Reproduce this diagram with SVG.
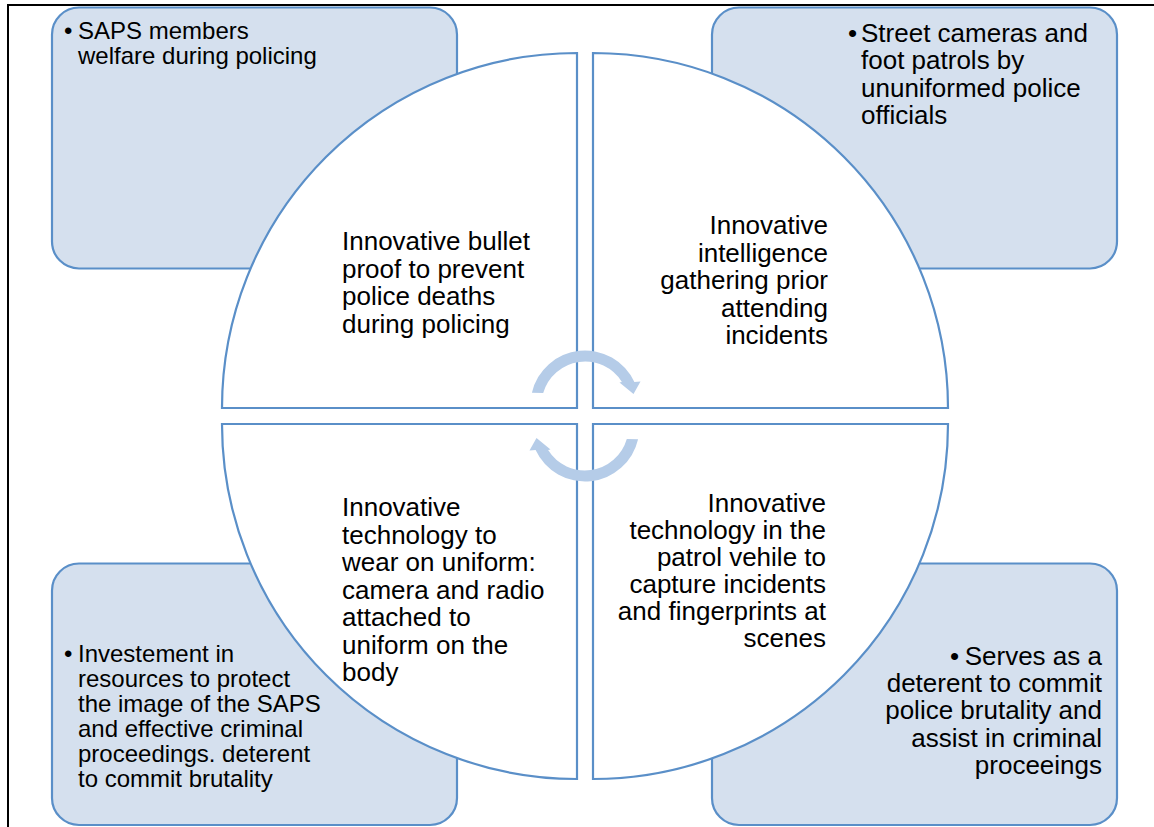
<svg xmlns="http://www.w3.org/2000/svg" width="1154" height="827" viewBox="0 0 1154 827">
<style>
.box{fill:#D5E0EE;stroke:#5A8FC8;stroke-width:2.2}
.quad{fill:#FFFFFF;stroke:#5A8FC8;stroke-width:2.2}
.arr{fill:#B5CCE8}
text{font-family:"Liberation Sans",Arial,sans-serif;fill:#000}
.q{font-size:26px}
.r{font-size:26px}
.l{font-size:24px}
.e{text-anchor:end}
.frame{stroke:#000;stroke-width:2;fill:none}
</style>
<rect width="1154" height="827" fill="#FFFFFF"/>
<path class="frame" d="M8 827 V5 H1154"/>
<g id="box-tl"><rect class="box" x="52" y="7.5" width="405" height="261" rx="27" ry="27"/>
<text class="l" x="64" y="39">•</text>
<text class="l" x="78" y="39">SAPS members</text>
<text class="l" x="78" y="63.6">welfare during policing</text></g>
<g id="box-tr"><rect class="box" x="712" y="7.5" width="405" height="261" rx="27" ry="27"/>
<text class="r" x="848" y="42">•</text>
<text class="r" x="861" y="42">Street cameras and</text>
<text class="r" x="861" y="69.3">foot patrols by</text>
<text class="r" x="861" y="96.6">ununiformed police</text>
<text class="r" x="861" y="124">officials</text></g>
<g id="box-bl"><rect class="box" x="52" y="563.5" width="405" height="261.5" rx="27" ry="27"/>
<text class="l" x="64" y="662">•</text>
<text class="l" x="78" y="662">Investement in</text>
<text class="l" x="78" y="686.9">resources to protect</text>
<text class="l" x="78" y="711.8">the image of the SAPS</text>
<text class="l" x="78" y="736.7">and effective criminal</text>
<text class="l" x="78" y="761.6">proceedings. deterent</text>
<text class="l" x="78" y="786.5">to commit brutality</text></g>
<g id="box-br"><rect class="box" x="712" y="563.5" width="405" height="261.5" rx="27" ry="27"/>
<text class="r" x="950" y="665">•</text>
<text class="r e" x="1102" y="665">Serves as a</text>
<text class="r e" x="1102" y="692.2">deterent to commit</text>
<text class="r e" x="1102" y="719.4">police brutality and</text>
<text class="r e" x="1102" y="746.6">assist in criminal</text>
<text class="r e" x="1102" y="773.8">proceeings</text></g>
<g id="quad-tl"><path class="quad" d="M577 408 L222 408 A355 355 0 0 1 577 53 Z"/>
<text class="q" x="342" y="250">Innovative bullet</text>
<text class="q" x="342" y="277.5">proof to prevent</text>
<text class="q" x="342" y="305">police deaths</text>
<text class="q" x="342" y="332.5">during policing</text></g>
<g id="quad-tr"><path class="quad" d="M593 408 L593 53 A355 355 0 0 1 948 408 Z"/>
<text class="q e" x="828" y="234">Innovative</text>
<text class="q e" x="828" y="261.5">intelligence</text>
<text class="q e" x="828" y="289">gathering prior</text>
<text class="q e" x="828" y="316.5">attending</text>
<text class="q e" x="828" y="344">incidents</text></g>
<g id="quad-bl"><path class="quad" d="M577 424 L577 779 A355 355 0 0 1 222 424 Z"/>
<text class="q" x="342" y="516">Innovative</text>
<text class="q" x="342" y="543.5">technology to</text>
<text class="q" x="342" y="571">wear on uniform:</text>
<text class="q" x="342" y="598.5">camera and radio</text>
<text class="q" x="342" y="626">attached to</text>
<text class="q" x="342" y="653.5">uniform on the</text>
<text class="q" x="342" y="681">body</text></g>
<g id="quad-br"><path class="quad" d="M593 424 L948 424 A355 355 0 0 1 593 779 Z"/>
<text class="q e" x="826" y="512">Innovative</text>
<text class="q e" x="826" y="539">technology in the</text>
<text class="q e" x="826" y="566">patrol vehile to</text>
<text class="q e" x="826" y="593">capture incidents</text>
<text class="q e" x="826" y="620">and fingerprints at</text>
<text class="q e" x="826" y="647">scenes</text></g>
<g id="connectors">
<path class="arr" d="M531.9 392.7 A54.5 54.5 0 0 1 634.4 382 L640.5 381.5 L633.5 394 L619.5 382.5 L621.9 382 A43.5 43.5 0 0 0 543.2 393 Z"/>
<path class="arr" transform="rotate(180 585 416)" d="M531.9 392.7 A54.5 54.5 0 0 1 634.4 382 L640.5 381.5 L633.5 394 L619.5 382.5 L621.9 382 A43.5 43.5 0 0 0 543.2 393 Z"/>
</g>
</svg>
